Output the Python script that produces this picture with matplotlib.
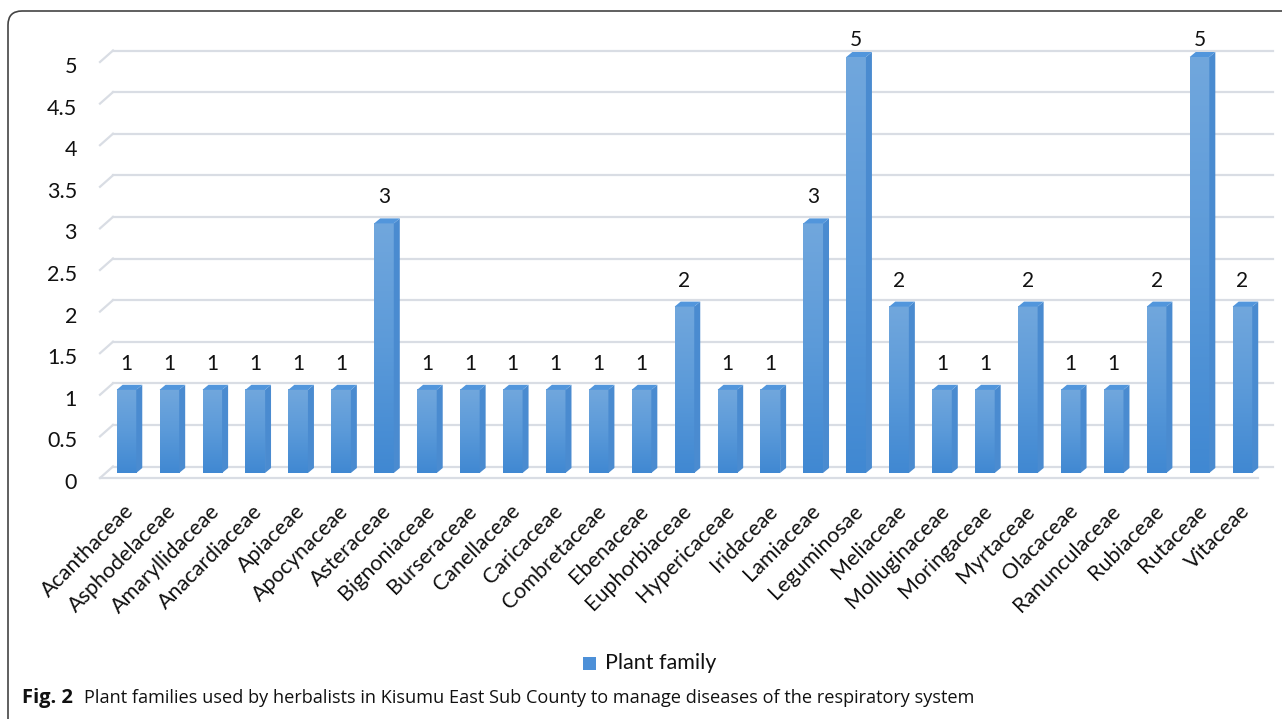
import numpy as np
import matplotlib.pyplot as plt
from matplotlib.colors import LinearSegmentedColormap
from matplotlib.patches import Polygon, FancyBboxPatch, Rectangle

families = ["Acanthaceae", "Asphodelaceae", "Amaryllidaceae", "Anacardiaceae",
            "Apiaceae", "Apocynaceae", "Asteraceae", "Bignoniaceae", "Burseraceae",
            "Canellaceae", "Caricaceae", "Combretaceae", "Ebenaceae", "Euphorbiaceae",
            "Hypericaceae", "Iridaceae", "Lamiaceae", "Leguminosae", "Meliaceae",
            "Molluginaceae", "Moringaceae", "Myrtaceae", "Olacaceae", "Ranunculaceae",
            "Rubiaceae", "Rutaceae", "Vitaceae"]
counts = [1, 1, 1, 1, 1, 1, 3, 1, 1, 1, 1, 1, 1, 2, 1, 1, 3, 5, 2, 1, 1, 2, 1, 1, 2, 5, 2]
yticks = [0, 0.5, 1, 1.5, 2, 2.5, 3, 3.5, 4, 4.5, 5]
ytick_labels = ["0", "0.5", "1", "1.5", "2", "2.5", "3", "3.5", "4", "4.5", "5"]
series_name = "Plant family"
caption_bold = "Fig. 2"
caption = "Plant families used by herbalists in Kisumu East Sub County to manage diseases of the respiratory system"

W, H = 1282, 719
fig = plt.figure(figsize=(W / 100, H / 100), dpi=100)

# axes placed in pixel terms (front plane of the fake 3D chart)
x_left, x_right = 105.0, 1263.9
y_zero, y_five = 473, 57
ax = fig.add_axes([x_left / W, (H - y_zero) / H, (x_right - x_left) / W, (y_zero - y_five) / H])
n = len(families)
ax.set_xlim(-0.5, n - 0.5)
ax.set_ylim(0, 5)
ax.axis("off")

px = n / (x_right - x_left)        # data units per pixel, x
py = 5.0 / (y_zero - y_five)        # data units per pixel, y

font = "Lato"
grid_c = "#d9dde4"

# back wall gridlines + left diagonal
for t in yticks:
    ax.plot([-0.5 + 8 * px, n - 0.5 + 9 * px], [t + 6.5 * py, t + 6.5 * py],
            color=grid_c, lw=1.6, clip_on=False, zorder=1)
    ax.plot([-0.5 - 5 * px, -0.5 + 8 * px], [t - 5 * py, t + 6.5 * py],
            color=grid_c, lw=1.6, clip_on=False, zorder=1)
# front floor edge
ax.plot([-0.5 - 5 * px, n - 0.5 - 6 * px], [-5 * py, -5 * py], color=grid_c, lw=1.6,
        clip_on=False, zorder=1)

front_cmap = LinearSegmentedColormap.from_list("front", ["#4088d2", "#5b9ad9", "#71a7dd"])
grad = np.linspace(0, 1, 256).reshape(-1, 1)
hw = 9.8 * px
dx, dy = 6 * px, 5 * py

for i, v in enumerate(counts):
    l, r = i - hw, i + hw
    ax.imshow(grad, extent=[l, r, 0, v], origin="lower", aspect="auto",
              cmap=front_cmap, zorder=3, clip_on=False, interpolation="bilinear")
    side = Polygon([(r, 0), (r + dx, dy), (r + dx, v + dy), (r, v)],
                   closed=True, facecolor="#4a8bd0", edgecolor="none", zorder=3, clip_on=False)
    top = Polygon([(l, v), (r, v), (r + dx, v + dy), (l + dx, v + dy)],
                  closed=True, facecolor="#5296dc", edgecolor="none", zorder=4, clip_on=False)
    ax.add_patch(side)
    ax.add_patch(top)
    ly = min(v + 26 * py, 5 + 17.5 * py)
    ax.text(i, ly, str(v), ha="center", va="center", fontsize=15, family=font,
            color="#111111", zorder=5)

ax.set_xlim(-0.5, n - 0.5)
ax.set_ylim(0, 5)

# y tick labels
for t, lab in zip(yticks, ytick_labels):
    ax.text(-0.5 - 28 * px, t - 10 * py, lab, ha="right", va="center",
            fontsize=15.5, family=font, color="#111111")

# category labels
for i, name in enumerate(families):
    ax.text(i + 4 * px, -35 * py, name, rotation=45, rotation_mode="anchor",
            ha="right", va="center", fontsize=15.5, family=font, color="#111111")

# legend
fig.patches.append(Rectangle((583, H - 670), 13, 13, transform=None,
                             facecolor="#4d90d8", edgecolor="none"))
fig.text(605 / W, (H - 663) / H, series_name, ha="left", va="center",
         fontsize=15.5, family=font, color="#111111")

# caption
cap_font = ["Open Sans"]
fig.text(22 / W, (H - 698) / H, caption_bold, ha="left", va="center",
         fontsize=14.5, family=cap_font, weight="bold", color="#111111")
fig.text(84 / W, (H - 698) / H, caption, ha="left", va="center",
         fontsize=13.1, family=cap_font, color="#111111")

# outer rounded frame
frame = FancyBboxPatch((8, -20), 1300, H - 11 + 20, boxstyle="round,pad=0,rounding_size=14",
                       transform=None, facecolor="none", edgecolor="#444444", lw=1.2)
fig.patches.append(frame)

fig.savefig("out.png", dpi=100)
